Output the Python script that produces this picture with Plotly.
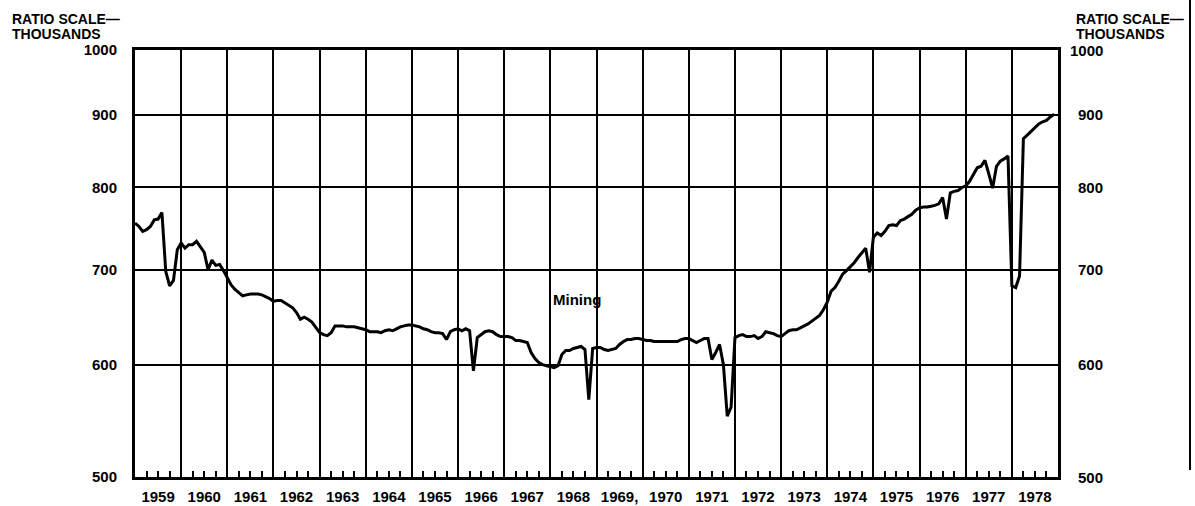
import math
import plotly.graph_objects as go

# ---------------- data (thousands, monthly) ----------------
years = list(range(1959, 1979))
year_labels = ["1959", "1960", "1961", "1962", "1963", "1964", "1965", "1966", "1967",
               "1968", "1969,", "1970", "1971", "1972", "1973", "1974", "1975", "1976",
               "1977", "1978"]
y_ticks = [500, 600, 700, 800, 900, 1000]
y_tick_labels = ["500", "600", "700", "800", "900", "1000"]

v1959 = [755, 751, 745, 747, 751, 759, 760, 768, 698, 682, 688, 723]
v1960 = [731, 725, 729, 729, 733, 726, 720, 700, 711, 705, 706, 699]
v1961 = [691, 683, 678, 674, 671, 672, 673, 673, 673, 672, 670, 668]
v1962 = [665, 666, 666, 663, 661, 658, 653, 646, 648, 646, 643, 637]
v1963 = [632, 630, 629, 632, 639, 639, 639, 638, 638, 638, 637, 636]
v1964 = [635, 633, 633, 633, 632, 634, 635, 634, 636, 638, 639, 640]
v1965 = [640, 639, 638, 636, 635, 633, 632, 632, 631, 625, 633, 635]
v1966 = [636, 634, 636, 634, 594, 627, 630, 633, 634, 633, 630, 628]
v1967 = [628, 628, 627, 624, 624, 623, 622, 612, 606, 602, 600, 599]
v1968 = [598, 597, 599, 610, 614, 614, 616, 617, 618, 615, 567, 616]
v1969 = [617, 617, 615, 614, 615, 616, 620, 623, 625, 625, 626, 626]
v1970 = [625, 624, 624, 623, 623, 623, 623, 623, 623, 623, 625, 626]
v1971 = [626, 624, 622, 624, 626, 626, 605, 612, 620, 600, 552, 560]
v1972 = [627, 629, 630, 628, 628, 629, 626, 628, 633, 632, 631, 629]
v1973 = [628, 631, 634, 635, 635, 637, 639, 641, 644, 647, 650, 656]
v1974 = [664, 676, 680, 687, 695, 699, 703, 708, 714, 720, 725, 697]
v1975 = [738, 743, 740, 745, 752, 753, 752, 758, 760, 763, 766, 771]
v1976 = [774, 775, 775, 776, 777, 779, 787, 760, 793, 795, 796, 800]
v1977 = [802, 808, 818, 826, 828, 836, 818, 799, 828, 835, 838, 842]
v1978 = [682, 680, 693, 866, 871, 876, 882, 887, 890, 892, 897, 901]

series = (v1959 + v1960 + v1961 + v1962 + v1963 + v1964 + v1965 + v1966 + v1967 + v1968 +
          v1969 + v1970 + v1971 + v1972 + v1973 + v1974 + v1975 + v1976 + v1977 + v1978)
months = [1959 + i / 12 for i in range(len(series))]

# ---------------- figure ----------------
FONT = "Liberation Sans"
W, H = 1195, 506
ML, MR, MT, MB = 135, 137, 50, 29
PW, PH = W - ML - MR, H - MT - MB

def px_x(p):
    return (p - ML) / PW

def px_y(p):
    return 1 - (p - MT) / PH

fig = go.Figure()

# invisible trace to activate the year-grid overlay axis
fig.add_trace(go.Scatter(x=[1959, 1979], y=[500, 1000], xaxis="x2", mode="markers",
                         marker=dict(opacity=0), hoverinfo="skip", showlegend=False))

fig.add_trace(go.Scatter(x=months, y=series, mode="lines",
                         line=dict(color="black", width=3), showlegend=False,
                         hoverinfo="x+y"))

quarters = [y + q / 4 for y in years for q in (1, 2, 3)]

fig.update_layout(
    width=W, height=H,
    margin=dict(l=ML, r=MR, t=MT, b=MB, pad=0),
    paper_bgcolor="white", plot_bgcolor="white",
    font=dict(family=FONT, color="black", size=15),
    xaxis=dict(
        range=[1959, 1979], automargin=False,
        tickvals=[y + 0.5 for y in years], ticktext=year_labels,
        ticks="", showgrid=False, zeroline=False,
        showline=True, linecolor="black", linewidth=3, mirror=True,
        tickfont=dict(family=FONT, size=15, weight="bold"),
        ticklabelstandoff=4,
        minor=dict(tickvals=quarters, ticks="inside", ticklen=6, tickwidth=2,
                   tickcolor="black", showgrid=False),
    ),
    xaxis2=dict(
        range=[1959, 1979], overlaying="x", anchor="y", automargin=False,
        tickvals=years + [1979], showticklabels=False, ticks="",
        showgrid=True, gridcolor="black", gridwidth=2, zeroline=False,
        showline=False,
    ),
    yaxis=dict(
        type="log", range=[math.log10(500), 3], automargin=False,
        tickvals=y_ticks, ticktext=y_tick_labels,
        ticks="", showgrid=True, gridcolor="black", gridwidth=2, zeroline=False,
        showline=True, linecolor="black", linewidth=3, mirror=True,
        tickfont=dict(family=FONT, size=15, weight="bold"),
        ticklabelstandoff=12,
    ),
)

# right-side scale labels (right aligned as in the original)
for v, t in zip(y_ticks, y_tick_labels):
    fig.add_annotation(x=px_x(1105), xref="paper", xanchor="right",
                       y=math.log10(v), yref="y", yanchor="middle",
                       text=t, showarrow=False,
                       font=dict(family=FONT, size=15, weight="bold"))

for xl in (10, 1074):
    fig.add_annotation(x=px_x(xl), xref="paper", xanchor="left",
                       y=px_y(9), yref="paper", yanchor="top",
                       text="RATIO SCALE—", showarrow=False,
                       font=dict(family=FONT, size=14, weight="bold"))
    fig.add_annotation(x=px_x(xl), xref="paper", xanchor="left",
                       y=px_y(24), yref="paper", yanchor="top",
                       text="THOUSANDS", showarrow=False,
                       font=dict(family=FONT, size=14, weight="bold"))

fig.add_annotation(x=1968.02, xref="x", xanchor="left",
                   y=math.log10(667), yref="y", yanchor="middle",
                   text="Mining", showarrow=False,
                   font=dict(family=FONT, size=15, weight="bold"))

# page edge rule at the far right
fig.add_shape(type="line", xref="paper", yref="paper",
              x0=px_x(1190), x1=px_x(1190), y0=px_y(0), y1=px_y(470),
              line=dict(color="black", width=2))

fig.write_html("out.html", config={"displayModeBar": False},
               post_script="document.body.style.margin='0';document.body.style.overflow='hidden';")
